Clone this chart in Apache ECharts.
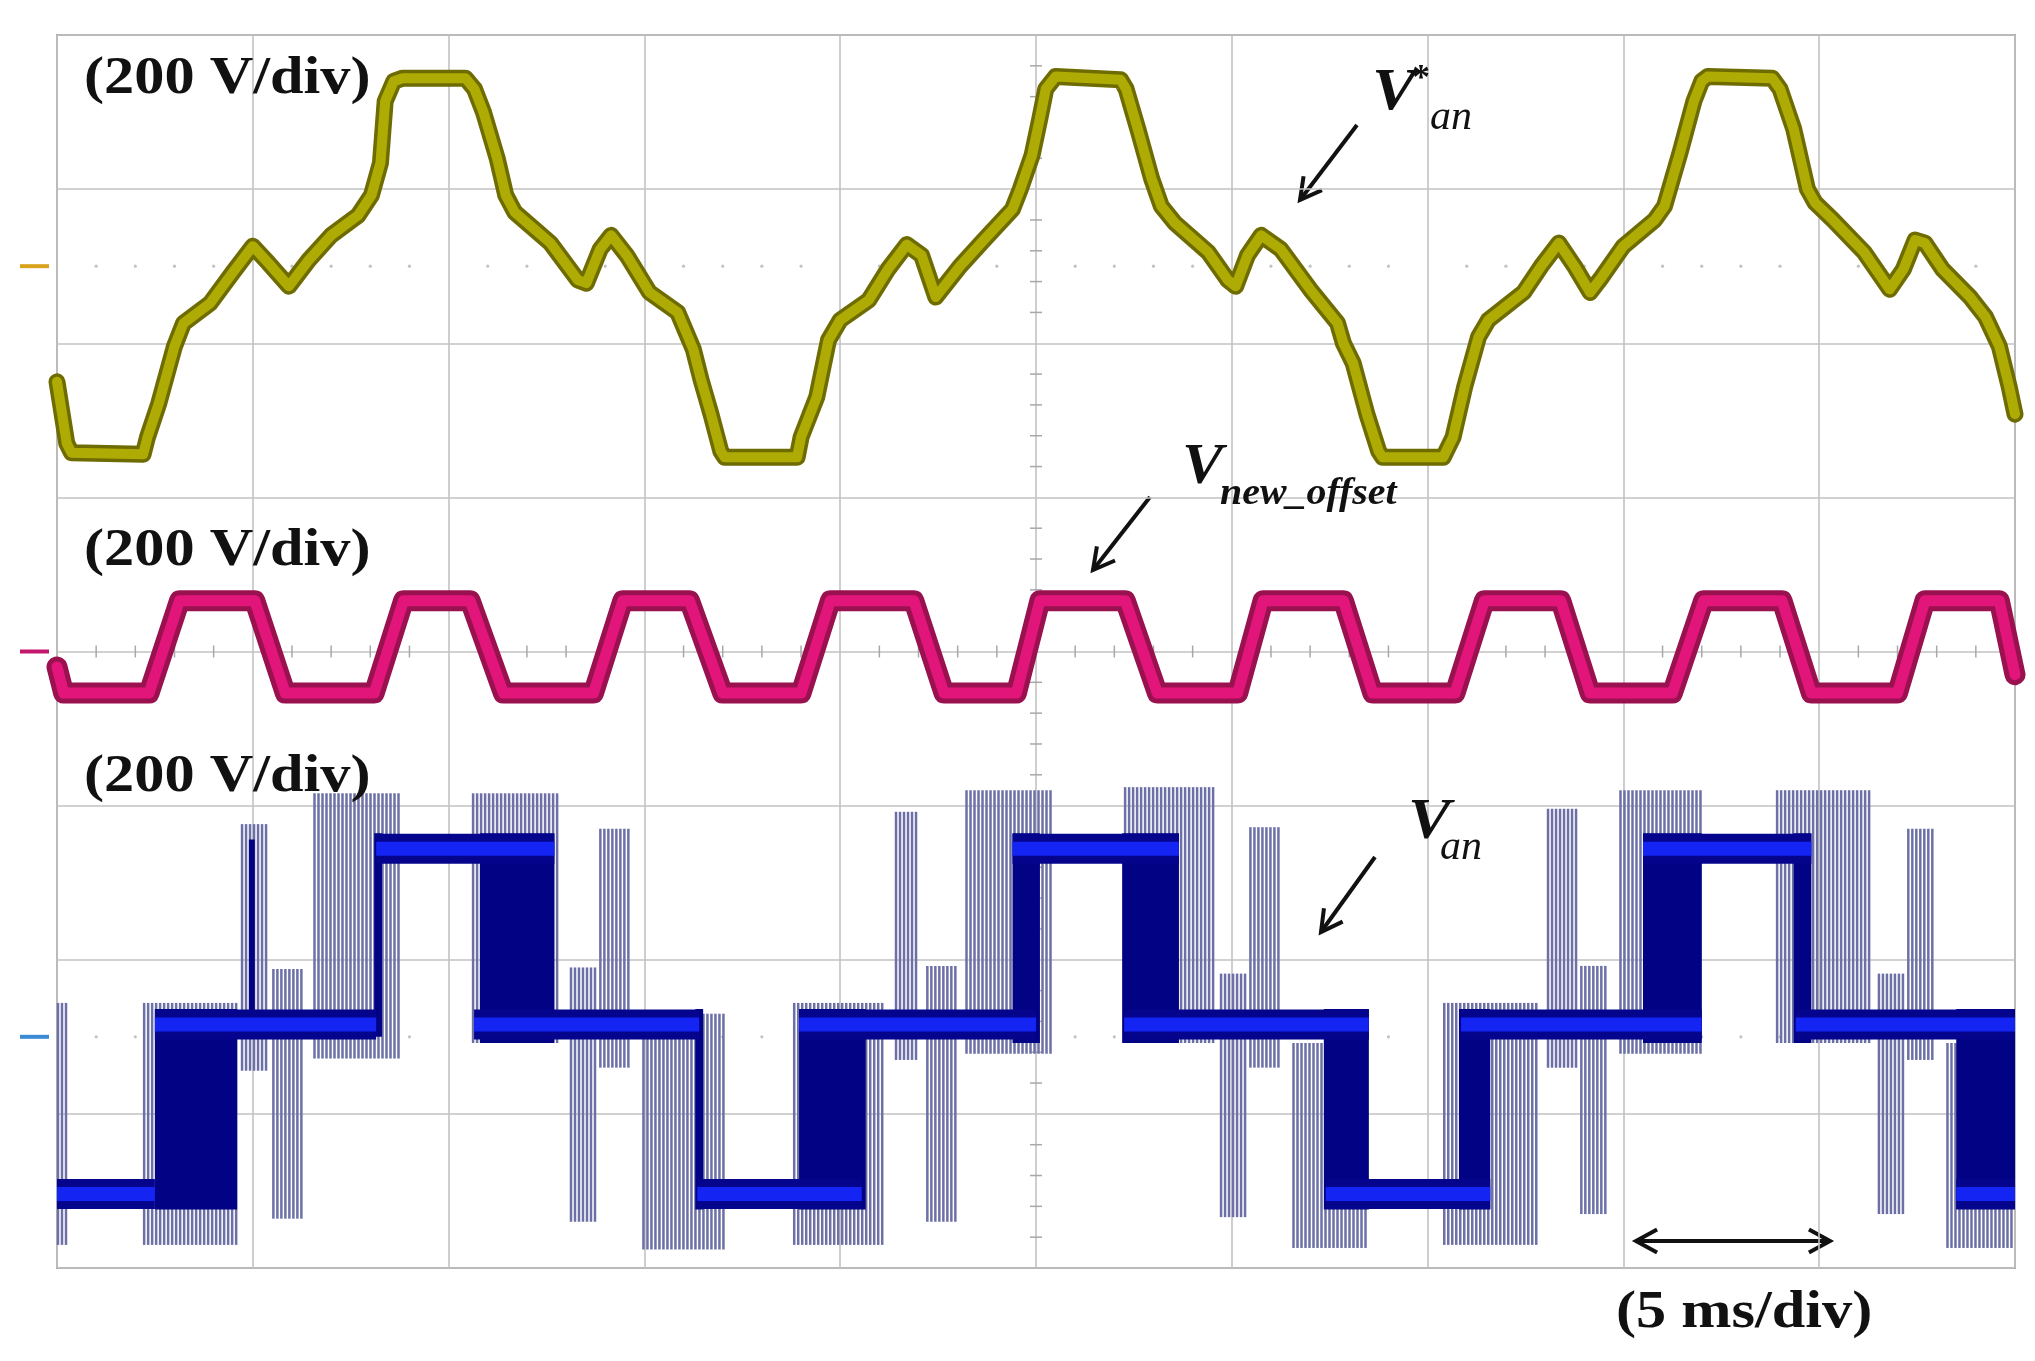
<!DOCTYPE html>
<html>
<head>
<meta charset="utf-8">
<script src="https://cdn.jsdelivr.net/npm/echarts@6/dist/echarts.min.js"></script>
<style>
html, body { margin: 0; padding: 0; background: #fff; }
#main { width: 2035px; height: 1361px; }
</style>
</head>
<body>
<div id="main"></div>
<script>
// scope screen: 10 x 8 divisions, 5 ms/div, 200 V/div on every channel
var VOLTS_PER_DIV = 200;
var REF_ZERO = 6.5;     // ground level of V*an (div from bottom)
var OFFSET_ZERO = 4;    // ground level of Vnew_offset
var VAN_ZERO = 1.5;     // ground level of Van

// V*an : [time ms, volts]
var vRefPoints = [
    [0, -150], [0.25, -230], [0.37, -242], [2.2, -244], [2.31, -222], [2.6, -178], [3.0, -104],
    [3.23, -74], [3.91, -48], [4.49, -8], [5.0, 26], [5.4, 4], [5.92, -26], [6.43, 8], [7.0, 40],
    [7.69, 66], [8.03, 92], [8.26, 134], [8.38, 214], [8.6, 240], [8.83, 244], [10.43, 244],
    [10.66, 230], [10.89, 200], [11.24, 140], [11.46, 92], [11.69, 70], [12.6, 30], [13.3, -18],
    [13.52, -22], [13.87, 22], [14.15, 40], [14.55, 14], [15.13, -34], [15.85, -60], [16.25, -108],
    [16.45, -148], [16.7, -192], [16.95, -240], [17.05, -248], [18.9, -248], [19.0, -222],
    [19.4, -170], [19.7, -96], [20.0, -70], [20.73, -44], [21.22, -4], [21.7, 28], [22.08, 14],
    [22.44, -40], [23.06, 0], [23.67, 34], [24.4, 74], [24.6, 100], [24.9, 144], [25.1, 192],
    [25.25, 230], [25.5, 246], [27.16, 242], [27.3, 230], [27.6, 178], [27.95, 114], [28.2, 78],
    [28.55, 56], [29.4, 18], [29.9, -18], [30.1, -26], [30.4, 14], [30.75, 40], [31.25, 22],
    [32.0, -30], [32.7, -74], [32.85, -100], [33.1, -126], [33.45, -192], [33.75, -240],
    [33.85, -248], [35.4, -248], [35.65, -222], [35.95, -156], [36.3, -92], [36.55, -70],
    [37.45, -34], [37.9, 0], [38.35, 30], [38.75, 0], [39.15, -34], [39.45, -14], [40.0, 26],
    [40.8, 60], [41.05, 78], [41.45, 148], [41.8, 214], [42.0, 240], [42.15, 246], [43.8, 244],
    [44.0, 230], [44.35, 178], [44.7, 100], [44.9, 82], [45.35, 60], [46.15, 18], [46.8, -30],
    [47.15, -4], [47.45, 34], [47.7, 30], [48.15, -4], [48.85, -40], [49.25, -66], [49.6, -104],
    [49.85, -156], [50.0, -192]
];

// Vnew_offset : [time ms, volts]
var vOffsetPoints = [
    [0, -20], [0.17, -54], [2.35, -54], [3.13, 66], [5.05, 66], [5.83, -54], [8.1, -54],
    [8.85, 66], [10.55, 66], [11.4, -54], [13.7, -54], [14.45, 66], [16.15, 66], [17.0, -54],
    [19.0, -54], [19.75, 66], [21.88, 66], [22.65, -54], [24.5, -54], [25.1, 66], [27.28, 66],
    [28.1, -54], [30.15, -54], [30.8, 66], [32.85, 66], [33.6, -54], [35.7, -54], [36.45, 66],
    [38.4, 66], [39.15, -54], [41.25, -54], [42.05, 66], [44.05, 66], [44.8, -54], [47.0, -54],
    [47.7, 66], [49.6, 66], [50, -30]
];

// Van steps : [t start, t end, level volts]
var vanSteps = [
    [0, 2.5, -204], [16.35, 20.55, -204], [32.4, 36.6, -204], [48.5, 50, -204],
    [2.5, 8.15, 16], [10.65, 16.4, 16], [18.95, 25.0, 16], [27.25, 33.5, 16], [35.85, 42.0, 16], [44.4, 50, 16],
    [8.15, 12.7, 244], [24.4, 28.65, 244], [40.5, 44.8, 244]
];

// Van PWM switching blocks : [t start, t end, low V, high V]
var vanPwm = [
    [2.5, 4.6, -224, 36], [4.9, 5.05, 16, 256], [8.1, 8.3, 0, 264], [10.8, 12.7, -8, 264],
    [16.3, 16.5, -224, 36], [18.95, 20.65, -224, 36], [24.4, 25.1, -8, 264], [27.2, 28.65, -8, 264],
    [32.35, 33.5, -224, 36], [35.8, 36.6, -224, 36], [40.5, 42.0, -8, 264], [44.35, 44.8, -8, 264],
    [48.5, 50, -224, 36]
];

// Van switching spikes : [t start, t end, low V, high V]
var vanSpikes = [
    [0, 0.3, -270, 44], [2.2, 4.6, -270, 44], [4.7, 5.35, -44, 276], [5.5, 6.3, -236, 88],
    [6.55, 8.8, -28, 316], [10.6, 12.85, -8, 316], [13.1, 13.75, -240, 90], [13.85, 14.6, -40, 270],
    [14.95, 17.05, -276, 30], [18.8, 21.15, -270, 44], [21.4, 22.0, -30, 292], [22.2, 22.95, -240, 92],
    [23.2, 25.4, -22, 320], [27.25, 29.55, -8, 324], [29.7, 30.4, -234, 82], [30.45, 31.2, -40, 272],
    [31.55, 33.5, -274, -8], [35.4, 37.8, -270, 44], [38.05, 38.8, -40, 296], [38.9, 39.6, -230, 92],
    [39.9, 42.0, -22, 320], [43.9, 46.3, -8, 320], [46.5, 47.2, -230, 82], [47.25, 47.95, -30, 270],
    [48.25, 50, -274, -8]
];

var groundLevels = [REF_ZERO, OFFSET_ZERO, VAN_ZERO];
var groundColors = ['#d9a21c', '#c2176c', '#3a8ad6'];

function toDiv(zero, v) {
    return zero + v / VOLTS_PER_DIV;
}

var chart = echarts.init(document.getElementById('main'));

function renderReticle(params, api) {
    var kids = [];
    var c = api.coord([25, OFFSET_ZERO]);
    var t, d, p;
    for (t = 0; t <= 50; t += 1) {
        if (t % 5 === 0) continue;
        p = api.coord([t, OFFSET_ZERO]);
        kids.push({type: 'line', shape: {x1: p[0], y1: p[1] - 6, x2: p[0], y2: p[1] + 6}, style: {stroke: '#a8a8a8', lineWidth: 1.5}});
        [REF_ZERO, VAN_ZERO].forEach(function (lv) {
            var q = api.coord([t, lv]);
            kids.push({type: 'circle', shape: {cx: q[0], cy: q[1], r: 1.6}, style: {fill: '#c2c2c2'}});
        });
    }
    for (d = 0; d <= 40; d += 1) {
        if (d % 5 === 0) continue;
        p = api.coord([25, d / 5]);
        kids.push({type: 'line', shape: {x1: c[0] - 6, y1: p[1], x2: c[0] + 6, y2: p[1]}, style: {stroke: '#a8a8a8', lineWidth: 1.5}});
    }
    return {type: 'group', children: kids};
}

function renderSpikes(params, api) {
    var a = api.coord([api.value(0), api.value(3)]);
    var b = api.coord([api.value(1), api.value(2)]);
    var kids = [];
    for (var x = a[0] + 1; x <= b[0]; x += 4) {
        kids.push({type: 'line', shape: {x1: x, y1: a[1], x2: x, y2: b[1]}, style: {stroke: '#6c70a6', lineWidth: 2.5}});
    }
    return {type: 'group', children: kids};
}

function renderPwm(params, api) {
    var a = api.coord([api.value(0), api.value(3)]);
    var b = api.coord([api.value(1), api.value(2)]);
    return {type: 'rect', shape: {x: a[0], y: a[1], width: b[0] - a[0], height: b[1] - a[1]}, style: {fill: '#020284'}};
}

function renderSteps(params, api) {
    var a = api.coord([api.value(0), api.value(2)]);
    var b = api.coord([api.value(1), api.value(2)]);
    return {type: 'group', children: [
        {type: 'rect', shape: {x: a[0], y: a[1] - 15, width: b[0] - a[0], height: 30}, style: {fill: '#04048c'}},
        {type: 'rect', shape: {x: a[0], y: a[1] - 7, width: b[0] - a[0], height: 14}, style: {fill: '#1424f2'}}
    ]};
}

function renderGround(params, api) {
    var p = api.coord([0, api.value(1)]);
    return {type: 'line', shape: {x1: p[0] - 37, y1: p[1], x2: p[0] - 8, y2: p[1]}, style: {stroke: groundColors[params.dataIndex], lineWidth: 4}};
}

var series = [
    {type: 'custom', z: 1, renderItem: renderReticle, data: [[0, 0]], silent: true},
    {type: 'custom', z: 2, renderItem: renderSpikes, silent: true,
        data: vanSpikes.map(function (s) { return [s[0], s[1], toDiv(VAN_ZERO, s[2]), toDiv(VAN_ZERO, s[3])]; })},
    {type: 'custom', z: 3, renderItem: renderPwm, silent: true,
        data: vanPwm.map(function (s) { return [s[0], s[1], toDiv(VAN_ZERO, s[2]), toDiv(VAN_ZERO, s[3])]; })},
    {type: 'custom', z: 4, renderItem: renderSteps, silent: true,
        data: vanSteps.map(function (s) { return [s[0], s[1], toDiv(VAN_ZERO, s[2])]; })},
    {type: 'line', z: 5, symbol: 'none', silent: true,
        lineStyle: {width: 21, color: '#9a1150', join: 'round', cap: 'round'},
        data: vOffsetPoints.map(function (p) { return [p[0], toDiv(OFFSET_ZERO, p[1])]; })},
    {type: 'line', z: 6, symbol: 'none', silent: true,
        lineStyle: {width: 11, color: '#e2157a', join: 'round', cap: 'round'},
        data: vOffsetPoints.map(function (p) { return [p[0], toDiv(OFFSET_ZERO, p[1])]; })},
    {type: 'line', z: 7, symbol: 'none', silent: true,
        lineStyle: {width: 17, color: '#6e6b00', join: 'round', cap: 'round'},
        data: vRefPoints.map(function (p) { return [p[0], toDiv(REF_ZERO, p[1])]; })},
    {type: 'line', z: 8, symbol: 'none', silent: true,
        lineStyle: {width: 10, color: '#aeac04', join: 'round', cap: 'round'},
        data: vRefPoints.map(function (p) { return [p[0], toDiv(REF_ZERO, p[1])]; })},
    {type: 'custom', z: 9, renderItem: renderGround, clip: false, silent: true,
        data: groundLevels.map(function (g) { return [0, g]; })}
];

function arrowHead(x1, y1, x2, y2) {
    var ang = Math.atan2(y2 - y1, x2 - x1);
    var len = 24, spread = 0.5;
    return [
        [x2 - len * Math.cos(ang - spread), y2 - len * Math.sin(ang - spread)],
        [x2, y2],
        [x2 - len * Math.cos(ang + spread), y2 - len * Math.sin(ang + spread)]
    ];
}

function arrow(x1, y1, x2, y2, both) {
    var out = [
        {type: 'line', shape: {x1: x1, y1: y1, x2: x2, y2: y2}, style: {stroke: '#111', lineWidth: 4}},
        {type: 'polyline', shape: {points: arrowHead(x1, y1, x2, y2)}, style: {stroke: '#111', lineWidth: 4, fill: null}}
    ];
    if (both) {
        out.push({type: 'polyline', shape: {points: arrowHead(x2, y2, x1, y1)}, style: {stroke: '#111', lineWidth: 4, fill: null}});
    }
    return out;
}

function label(x, y, text, font, sx) {
    return {type: 'text', x: x, y: y, scaleX: sx || 1, z: 100,
        style: {text: text, x: 0, y: 0, font: font, fill: '#111', textAlign: 'left', textVerticalAlign: 'middle'}};
}

var SERIF = '"Liberation Serif", "DejaVu Serif", serif';
var scaleFont = 'bold 52px ' + SERIF;

var graphics = [
    label(84, 80, '(200 V/div)', scaleFont, 1.16),
    label(84, 552, '(200 V/div)', scaleFont, 1.16),
    label(84, 778, '(200 V/div)', scaleFont, 1.16),
    label(1616, 1314, '(5 ms/div)', scaleFont, 1.16),
    label(1372, 93, 'V', 'italic bold 60px ' + SERIF, 1.1),
    label(1412, 80, '*', 'bold 36px ' + SERIF, 1),
    label(1430, 118, 'an', 'italic 40px ' + SERIF, 1.05),
    label(1182, 469, 'V', 'italic bold 56px ' + SERIF, 1.1),
    label(1220, 494, 'new_offset', 'italic bold 38px ' + SERIF, 1.05),
    label(1408, 823, 'V', 'italic bold 58px ' + SERIF, 1.1),
    label(1440, 848, 'an', 'italic 40px ' + SERIF, 1.05)
].concat(
    arrow(1357, 125, 1300, 200),
    arrow(1150, 497, 1093, 570),
    arrow(1375, 857, 1321, 932),
    arrow(1636, 1241, 1830, 1241, true)
);

chart.setOption({
    animation: false,
    backgroundColor: '#ffffff',
    grid: {left: 57, top: 35, width: 1958, height: 1233, show: true,
        borderColor: '#a2a2a2', borderWidth: 2, backgroundColor: '#ffffff'},
    xAxis: {type: 'value', min: 0, max: 50, interval: 5,
        axisLine: {show: false}, axisTick: {show: false}, axisLabel: {show: false},
        splitLine: {show: true, lineStyle: {color: '#c2c2c2', width: 1.6}}},
    yAxis: {type: 'value', min: 0, max: 8, interval: 1,
        axisLine: {show: false}, axisTick: {show: false}, axisLabel: {show: false},
        splitLine: {show: true, lineStyle: {color: '#c2c2c2', width: 1.6}}},
    series: series,
    graphic: {elements: graphics}
});
</script>
</body>
</html>
